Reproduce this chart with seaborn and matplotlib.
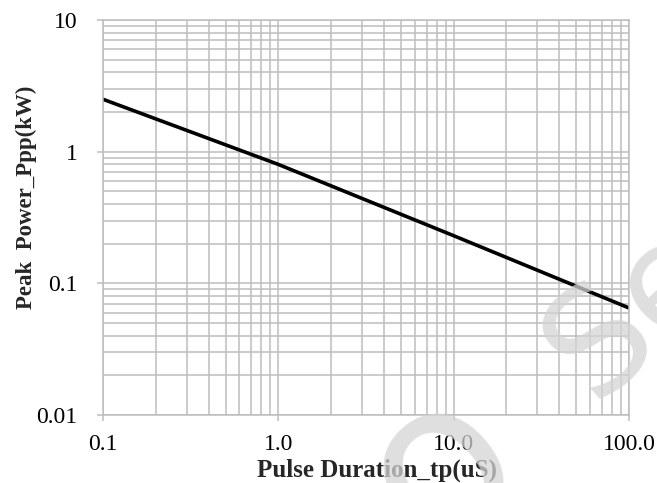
import numpy as np
import pandas as pd
import seaborn as sns
import matplotlib.pyplot as plt
from matplotlib.ticker import FixedLocator, LogLocator, NullFormatter

# courbe puissance crête / durée d'impulsion (log-log)
pulse_us = [0.1, 1.0, 10.0, 100.0]
peak_kw = [2.5, 0.8, 0.23, 0.065]

x_ticks = [0.1, 1.0, 10.0, 100.0]
x_labels = ["0.1", "1.0", "10.0", "100.0"]
y_ticks = [0.01, 0.1, 1, 10]
y_labels = ["0.01", "0.1", "1", "10"]

df = pd.DataFrame({"tp": pulse_us, "ppp": peak_kw})

sns.set_theme(style="white")
plt.rcParams['font.family'] = ['Liberation Serif', 'DejaVu Serif']

fig = plt.figure(figsize=(6.57, 4.83), dpi=100)
ax = fig.add_axes([103 / 657, 1 - 415 / 483, 526 / 657, 395 / 483])

ax.set_xscale("log")
ax.set_yscale("log")
ax.set_xlim(0.1, 100)
ax.set_ylim(0.01, 10)

grid_col = "#bdbdbd"
ax.xaxis.set_minor_locator(LogLocator(base=10, subs=np.arange(2, 10)))
ax.yaxis.set_minor_locator(LogLocator(base=10, subs=np.arange(2, 10)))
ax.xaxis.set_minor_formatter(NullFormatter())
ax.yaxis.set_minor_formatter(NullFormatter())
ax.grid(True, which="both", color=grid_col, linewidth=1.1)
ax.set_axisbelow(True)

sns.lineplot(data=df, x="tp", y="ppp", ax=ax, color="black", linewidth=2.6)

ax.xaxis.set_major_locator(FixedLocator(x_ticks))
ax.set_xticklabels(x_labels)
ax.yaxis.set_major_locator(FixedLocator(y_ticks))
ax.set_yticklabels(y_labels)
ax.tick_params(axis="both", which="major", direction="out", length=4.5, width=1.1,
               color=grid_col, labelsize=17, labelcolor="black",
               bottom=True, left=True)
ax.tick_params(axis="x", which="major", pad=9)
ax.tick_params(axis="y", which="major", pad=14)
ax.tick_params(axis="both", which="minor", length=0)

for s in ax.spines.values():
    s.set_color(grid_col)
    s.set_linewidth(1.1)

ax.set_xlabel("Pulse Duration_tp(uS)", fontsize=18, fontweight="bold")
ax.set_ylabel("Peak  Power_Ppp(kW)", fontsize=16.5, fontweight="bold")
ax.xaxis.set_label_coords(0.52, -0.11)
ax.yaxis.set_label_coords(-0.125, 0.55)

# filigrane
fig.text(0.965, 0.355, "Se", fontsize=105, color="#d4d4d4", alpha=0.75, rotation=42,
         ha="center", va="center", family="DejaVu Sans", zorder=0)
fig.text(0.67, 0.035, "o", fontsize=155, color="#d4d4d4", alpha=0.75, rotation=42,
         ha="center", va="center", family="DejaVu Sans", zorder=0)

fig.savefig("out.png", dpi=100)
